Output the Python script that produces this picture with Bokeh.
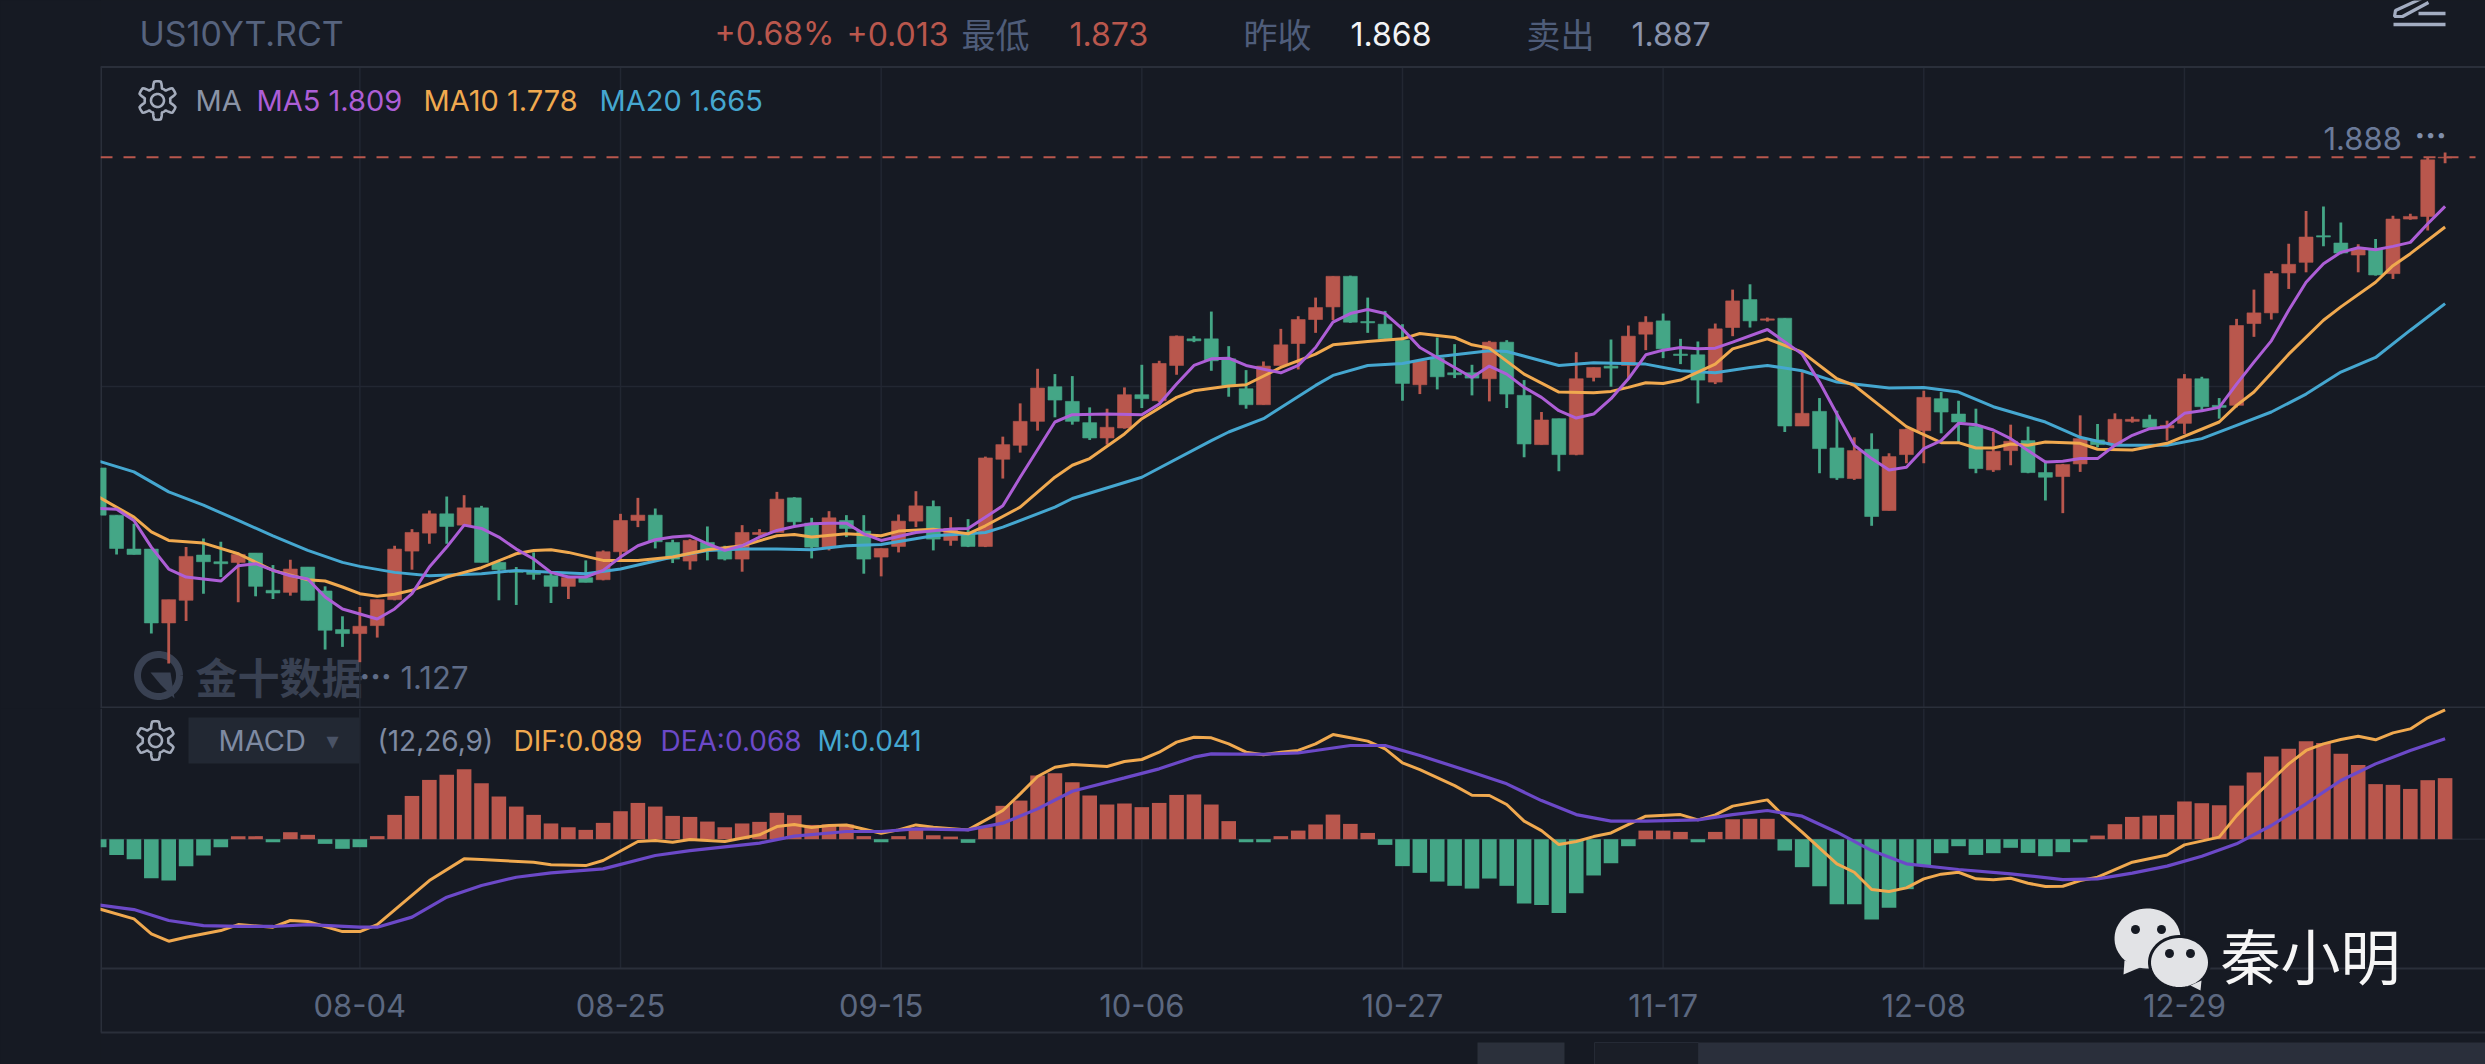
import numpy as np
from bokeh.plotting import figure
from bokeh.layouts import column
from bokeh.models import Range1d, Label, FixedTicker
from bokeh.embed import file_html
from bokeh.resources import INLINE

# ---------- candles (price) ----------
OPEN = [1.421,1.350,1.299,1.299,1.188,1.222,1.290,1.280,1.279,1.293,
        1.237,1.234,1.272,1.236,1.178,1.172,1.184,1.223,1.296,1.323,
        1.352,1.335,1.361,1.279,1.266,1.266,1.259,1.243,1.256,1.253,
        1.295,1.342,1.350,1.309,1.281,1.309,1.299,1.284,1.321,1.324,
        1.376,1.338,1.302,1.342,1.326,1.287,1.303,1.341,1.363,1.312,
        1.323,1.303,1.434,1.455,1.491,1.543,1.521,1.489,1.466,1.481,
        1.531,1.522,1.575,1.615,1.615,1.585,1.540,1.516,1.575,1.608,
        1.644,1.663,1.709,1.641,1.637,1.613,1.546,1.586,1.564,1.564,
        1.555,1.610,1.530,1.456,1.495,1.441,1.557,1.574,1.575,1.622,
        1.642,1.592,1.591,1.550,1.632,1.674,1.643,1.646,1.484,1.506,
        1.451,1.405,1.449,1.357,1.441,1.477,1.525,1.502,1.483,1.418,
        1.447,1.462,1.414,1.408,1.427,1.463,1.457,1.491,1.494,1.481,
        1.488,1.555,1.515,1.515,1.638,1.654,1.714,1.730,1.770,1.759,
        1.741,1.749,1.713,1.795,1.799,1.887]
HIGH = [1.421,1.350,1.337,1.299,1.223,1.302,1.315,1.310,1.294,1.293,
        1.275,1.283,1.272,1.243,1.198,1.212,1.223,1.304,1.329,1.357,
        1.378,1.380,1.364,1.282,1.272,1.294,1.263,1.259,1.282,1.297,
        1.352,1.376,1.360,1.313,1.314,1.333,1.304,1.335,1.329,1.385,
        1.377,1.346,1.356,1.350,1.350,1.300,1.351,1.386,1.372,1.347,
        1.344,1.438,1.468,1.518,1.570,1.562,1.559,1.512,1.510,1.542,
        1.576,1.582,1.620,1.619,1.656,1.604,1.568,1.581,1.630,1.649,
        1.677,1.709,1.710,1.677,1.657,1.637,1.583,1.617,1.607,1.576,
        1.612,1.613,1.553,1.505,1.495,1.595,1.572,1.614,1.635,1.649,
        1.653,1.615,1.611,1.638,1.689,1.697,1.647,1.646,1.565,1.526,
        1.507,1.467,1.473,1.443,1.480,1.537,1.535,1.522,1.510,1.475,
        1.486,1.483,1.432,1.427,1.500,1.487,1.503,1.498,1.501,1.492,
        1.562,1.558,1.526,1.645,1.689,1.717,1.758,1.807,1.814,1.790,
        1.757,1.765,1.800,1.803,1.888,1.895]
LOW = [1.350,1.291,1.291,1.172,1.127,1.191,1.232,1.257,1.219,1.228,
       1.224,1.229,1.222,1.148,1.152,1.129,1.166,1.222,1.268,1.307,
       1.307,1.333,1.279,1.222,1.215,1.253,1.218,1.224,1.249,1.252,
       1.284,1.332,1.300,1.278,1.268,1.282,1.282,1.265,1.319,1.324,
       1.332,1.285,1.297,1.317,1.262,1.258,1.294,1.332,1.297,1.304,
       1.302,1.302,1.405,1.444,1.477,1.497,1.486,1.463,1.456,1.480,
       1.511,1.520,1.561,1.610,1.567,1.528,1.510,1.516,1.575,1.569,
       1.624,1.643,1.639,1.624,1.615,1.522,1.532,1.539,1.556,1.530,
       1.521,1.511,1.437,1.456,1.416,1.440,1.551,1.543,1.555,1.598,
       1.586,1.577,1.518,1.547,1.619,1.632,1.641,1.475,1.484,1.413,
       1.403,1.403,1.334,1.357,1.428,1.428,1.473,1.460,1.413,1.415,
       1.425,1.413,1.372,1.353,1.415,1.452,1.455,1.489,1.480,1.462,
       1.472,1.507,1.495,1.512,1.618,1.644,1.690,1.715,1.754,1.742,
       1.715,1.710,1.705,1.794,1.778,1.879]
CLOSE = [1.350,1.300,1.291,1.188,1.223,1.288,1.280,1.277,1.291,1.243,
         1.233,1.269,1.222,1.177,1.172,1.183,1.223,1.299,1.324,1.352,
         1.333,1.361,1.279,1.268,1.264,1.261,1.243,1.256,1.249,1.295,
         1.342,1.350,1.310,1.284,1.312,1.297,1.284,1.324,1.324,1.374,
         1.340,1.302,1.346,1.330,1.284,1.300,1.341,1.364,1.314,1.330,
         1.303,1.436,1.456,1.491,1.541,1.523,1.491,1.466,1.482,1.531,
         1.525,1.578,1.619,1.612,1.582,1.545,1.516,1.574,1.606,1.644,
         1.662,1.709,1.640,1.639,1.615,1.548,1.582,1.558,1.561,1.556,
         1.610,1.532,1.457,1.493,1.441,1.555,1.572,1.571,1.619,1.640,
         1.600,1.590,1.553,1.630,1.672,1.642,1.645,1.484,1.503,1.450,
         1.406,1.447,1.348,1.438,1.479,1.527,1.505,1.490,1.420,1.446,
         1.461,1.414,1.407,1.426,1.465,1.456,1.494,1.494,1.482,1.485,
         1.555,1.513,1.512,1.635,1.654,1.713,1.727,1.768,1.768,1.744,
         1.750,1.711,1.795,1.799,1.884,1.888]

# ---------- moving averages, read at visible vertices ----------
MA5_I = [0,1,2,3,4,5,7,8,9,10,11,12,13,14,16,17,18,19,20,21,22,23,24,25,26,27,28,29,30,31,32,33,34,35,36,37,38,39,40,41,42,43,44,45,
         47,49,50,52,53,55,56,58,60,61,62,63,64,65,66,68,69,70,71,72,73,74,75,76,77,78,79,80,81,82,83,84,85,86,87,88,89,90,91,
         92,93,94,96,98,99,100,101,102,103,104,105,106,107,108,109,110,111,112,113,114,115,116,117,118,119,120,121,122,123,124,125,126,127,128,129,130,131,132,133,134,135]
MA5 = [1.360,1.359,1.342,1.302,1.269,1.257,1.251,1.274,1.277,1.267,1.259,1.254,1.227,1.209,1.194,1.209,1.232,1.272,1.302,1.335,1.330,1.317,1.299,1.284,1.264,1.257,1.257,1.267,1.287,1.304,1.313,1.317,1.319,1.307,1.297,1.304,1.317,1.327,1.333,1.337,1.338,1.338,1.322,1.312,
       1.324,1.329,1.330,1.364,1.407,1.490,1.501,1.502,1.501,1.517,1.547,1.575,1.585,1.586,1.575,1.564,1.575,1.602,1.640,1.653,1.659,1.653,1.630,1.602,1.587,1.572,1.557,1.574,1.562,1.542,1.527,1.507,1.496,1.502,1.525,1.555,1.591,1.598,1.602,
       1.600,1.601,1.610,1.629,1.592,1.550,1.502,1.455,1.435,1.418,1.422,1.450,1.462,1.488,1.486,1.478,1.465,1.447,1.430,1.431,1.435,1.435,1.455,1.470,1.480,1.483,1.503,1.507,1.512,1.547,1.580,1.612,1.658,1.700,1.728,1.745,1.752,1.749,1.754,1.760,1.788,1.814]
MA10_I = [0,2,3,4,6,8,10,12,13,14,15,16,17,18,20,21,22,24,25,26,27,29,31,33,35,37,39,40,41,43,45,46,
          48,50,51,53,55,56,57,59,60,62,63,65,66,68,70,71,73,75,76,78,79,80,82,84,86,87,88,89,90,91,
          92,93,94,96,98,100,101,104,106,107,108,109,110,111,112,114,115,117,119,122,123,124,126,128,129,131,132,133,135]
MA10 = [1.377,1.347,1.325,1.312,1.308,1.292,1.267,1.253,1.251,1.242,1.232,1.228,1.231,1.237,1.257,1.264,1.271,1.292,1.297,1.298,1.294,1.282,1.282,1.287,1.298,1.304,1.319,1.321,1.317,1.322,1.319,1.326,
        1.329,1.322,1.334,1.362,1.407,1.425,1.435,1.472,1.495,1.527,1.537,1.544,1.546,1.572,1.592,1.606,1.611,1.615,1.623,1.617,1.606,1.601,1.562,1.535,1.534,1.536,1.542,1.549,1.548,1.553,
        1.565,1.577,1.600,1.615,1.595,1.555,1.545,1.483,1.459,1.459,1.451,1.451,1.457,1.455,1.460,1.458,1.449,1.448,1.458,1.490,1.515,1.535,1.592,1.643,1.663,1.700,1.725,1.743,1.783]
MA20_I = [0,2,4,6,8,10,12,14,15,17,19,22,24,26,28,30,33,35,37,39,41,43,45,
          48,50,51,52,55,56,60,64,65,67,70,71,73,75,77,80,81,84,86,89,91,
          93,95,96,98,100,103,105,107,109,112,114,116,119,121,123,125,127,129,131,133,135]
MA20 = [1.431,1.415,1.385,1.365,1.342,1.319,1.297,1.279,1.273,1.264,1.259,1.262,1.267,1.264,1.262,1.269,1.287,1.297,1.299,1.299,1.298,1.304,1.306,
        1.319,1.322,1.324,1.332,1.362,1.375,1.407,1.462,1.475,1.495,1.545,1.560,1.575,1.578,1.588,1.597,1.596,1.575,1.579,1.577,1.567,
        1.564,1.572,1.575,1.567,1.550,1.541,1.542,1.535,1.513,1.490,1.467,1.455,1.455,1.465,1.485,1.505,1.532,1.565,1.587,1.628,1.668]

# ---------- MACD ----------
MACD_M = [-.0055,-.0108,-.0137,-.0268,-.0284,-.0185,-.0112,-.0055,.0021,.0021,
          -.0021,.0048,.0030,-.0032,-.0066,-.0055,.0021,.0167,.0297,.0407,
          .0442,.0480,.0384,.0293,.0224,.0167,.0108,.0082,.0064,.0112,
          .0192,.0249,.0224,.0160,.0153,.0121,.0082,.0108,.0119,.0181,
          .0165,.0098,.0101,.0101,.0021,-.0021,.0021,.0071,.0027,.0018,
          -.0025,.0082,.0229,.0265,.0437,.0453,.0391,.0300,.0238,.0245,
          .0220,.0249,.0304,.0307,.0238,.0124,-.0021,-.0021,.0021,.0059,
          .0101,.0169,.0105,.0043,-.0039,-.0185,-.0231,-.0291,-.0320,-.0339,
          -.0270,-.0320,-.0442,-.0451,-.0506,-.0371,-.0249,-.0165,-.0048,.0059,
          .0059,.0050,-.0021,.0050,.0137,.0140,.0140,-.0078,-.0192,-.0323,
          -.0446,-.0446,-.0551,-.0471,-.0343,-.0181,-.0096,-.0048,-.0108,-.0096,
          -.0059,-.0094,-.0117,-.0089,-.0021,.0025,.0103,.0153,.0162,.0167,
          .0259,.0247,.0233,.0368,.0458,.0567,.0620,.0673,.0661,.0586,
          .0510,.0378,.0373,.0345,.0405,.0419]
DIF_I = [0,2,3,4,5,7,8,10,11,12,14,15,16,19,21,22,25,26,28,29,31,32,33,34,36,38,39,40,41,42,43,45,46,47,48,50,52,53,54,55,56,58,59,60,61,62,63,64,65,66,67,68,
         69,70,71,72,73,74,75,76,78,79,80,81,82,83,84,85,86,87,89,91,92,93,94,96,97,98,100,101,102,103,104,105,106,107,108,109,110,111,112,113,114,115,117,119,120,122,123,124,125,126,127,128,129,130,131,132,133,134,135]
DIF = [-.0478,-.0547,-.0650,-.0700,-.0673,-.0627,-.0586,-.0604,-.0558,-.0565,-.0634,-.0634,-.0586,-.0284,-.0135,-.0140,-.0158,-.0176,-.0181,-.0146,-.0016,-.0009,-.0021,-.0002,-.0016,.0030,.0087,.0101,.0080,.0094,.0098,.0041,.0064,.0098,.0082,.0064,.0197,.0311,.0430,.0494,.0513,.0499,.0533,.0547,.0597,.0666,.0700,.0696,.0654,.0597,.0579,.0597,
       .0609,.0654,.0718,.0696,.0673,.0620,.0524,.0478,.0368,.0302,.0300,.0238,.0124,.0059,-.0037,-.0016,.0018,.0043,.0158,.0169,.0133,.0167,.0227,.0270,.0151,.0048,-.0169,-.0227,-.0345,-.0359,-.0334,-.0272,-.0240,-.0227,-.0272,-.0279,-.0268,-.0302,-.0325,-.0323,-.0284,-.0261,-.0158,-.0108,-.0039,.0014,.0162,.0288,.0403,.0517,.0609,.0654,.0684,.0707,.0682,.0730,.0757,.0833,.0888]
DEA_I = [0,2,4,6,8,10,12,15,16,18,20,22,24,26,29,32,34,38,40,43,45,47,50,52,54,56,59,61,63,64,67,
         69,70,72,74,76,79,81,83,85,87,89,92,94,96,98,100,102,104,107,110,113,115,117,119,121,123,125,127,129,131,133,135]
DEA = [-.0451,-.0483,-.0558,-.0593,-.0599,-.0599,-.0586,-.0604,-.0604,-.0535,-.0398,-.0318,-.0261,-.0231,-.0204,-.0112,-.0078,-.0027,.0021,.0053,.0053,.0071,.0064,.0110,.0208,.0329,.0421,.0483,.0563,.0586,.0583,
       .0593,.0609,.0643,.0643,.0574,.0460,.0380,.0265,.0169,.0124,.0124,.0133,.0169,.0197,.0158,.0048,-.0078,-.0169,-.0208,-.0238,-.0277,-.0272,-.0233,-.0185,-.0117,-.0032,.0094,.0243,.0403,.0517,.0609,.0689]

TICK_IDX = [15, 30, 45, 60, 75, 90, 105, 120]
TICK_LABELS = ["08-04", "08-25", "09-15", "10-06", "10-27", "11-17", "12-08", "12-29"]
LAST_PRICE = 1.888
MAX_LABEL = "1.888"
MIN_LABEL = "1.127"

BG = "#161a23"
RED = "#b9574d"
GREEN = "#44a686"
GRID = "#222732"
EDGE = "#2a2f3a"
C5 = "#ad5ed6"
C10 = "#f0a94f"
C20 = "#45a7d0"
CDEA = "#6c49c8"

# page pixel -> data coordinates, used only for icons, text and chrome
def X(px): return (px - 98.7) / 17.377
def Y(py): return 1.888 - (py - 156.7) * 0.001503
def M(py): return (838.7 - py) / 1457.0

FRAME_R = 2485
xr = (X(100), X(FRAME_R))

def base(height, yr, **kw):
    p = figure(width=2485, height=height, frame_width=2385, frame_height=height,
               x_range=Range1d(*xr), y_range=Range1d(*yr), output_backend="svg",
               toolbar_location=None, y_axis_location=None,
               background_fill_color=BG, border_fill_color=BG,
               min_border_left=100, min_border_right=0, min_border_top=0, min_border_bottom=0,
               outline_line_color=None, tools="", **kw)
    p.grid.visible = False
    return p

def label(p, fy, px, py, text, color, size, font="Inter", align="left", style="normal", level="annotation"):
    p.add_layout(Label(x=X(px), y=fy(py), text=text, text_color=color, text_font=font,
                       text_font_size=f"{size}px", text_align=align, text_baseline="middle",
                       text_font_style=style, level=level))

def gear(p, fy, cx, cy):
    a = np.linspace(0, 2*np.pi, 145)
    r = 16.0 + 3.2 * np.clip(2.0 * np.cos(6 * a), -1, 1)
    # rotate so that teeth point up and down
    p.line(X(cx + r*np.sin(a)), fy(cy + r*np.cos(a)), line_color="#a4acbc", line_width=2.6)
    a2 = np.linspace(0, 2*np.pi, 40)
    p.line(X(cx + 6.5*np.cos(a2)), fy(cy + 6.5*np.sin(a2)), line_color="#a4acbc", line_width=2.6)

def blob(cx, cy, rx, ry):
    a = np.linspace(0, 2*np.pi, 60)
    return cx + rx*np.cos(a), cy + ry*np.sin(a)

# ================= price panel =================
p = base(708, (Y(708), Y(0)), x_axis_location=None)
xs = list(range(len(OPEN)))

p.segment(TICK_IDX, [Y(708)]*8, TICK_IDX, [Y(66)]*8, line_color=GRID, line_width=1.5)
p.segment([X(100)], [Y(386)], [X(FRAME_R)], [Y(386)], line_color=GRID, line_width=1.5)
p.segment([X(100)], [Y(66.5)], [X(FRAME_R)], [Y(66.5)], line_color=EDGE, line_width=2)
p.segment([X(100)], [Y(707)], [X(FRAME_R)], [Y(707)], line_color=EDGE, line_width=2)
p.segment([X(100.5)], [Y(708)], [X(100.5)], [Y(66)], line_color=EDGE, line_width=2)

# watermark
wx, wy = blob(158, 675, 21, 21)
p.line(X(wx), Y(wy), line_color="#394152", line_width=7)
p.patch(X(np.array([150, 170, 174, 160])), Y(np.array([672, 672, 698, 684])), fill_color="#394152", line_color=None)
label(p, Y, 195, 675, "金十数据", "#394152", 42, "Noto Sans CJK SC", style="bold", level="underlay")

colors = [RED if c >= o else GREEN for o, c in zip(OPEN, CLOSE)]
p.segment(xs, LOW, xs, HIGH, line_color=colors, line_width=2.8)
top = [max(o, c) for o, c in zip(OPEN, CLOSE)]
bot = [min(o, c) for o, c in zip(OPEN, CLOSE)]
p.vbar(x=xs, top=top, bottom=bot, width=0.8, fill_color=colors, line_color=colors, line_width=0.6)

p.line(MA20_I, MA20, line_color=C20, line_width=3)
p.line(MA10_I, MA10, line_color=C10, line_width=3)
p.line(MA5_I, MA5, line_color=C5, line_width=3)

p.line([X(100), X(2475)], [LAST_PRICE, LAST_PRICE], line_color=RED, line_width=2, line_dash="12 11")

gear(p, Y, 157, 100)
label(p, Y, 139, 33, "US10YT.RCT", "#56637e", 34)
label(p, Y, 714, 33, "+0.68%", RED, 32)
label(p, Y, 846, 33, "+0.013", RED, 32)
label(p, Y, 961, 33, "最低", "#4f5d7a", 34, "Noto Sans CJK SC")
label(p, Y, 1069, 33, "1.873", RED, 32)
label(p, Y, 1243, 33, "昨收", "#4f5d7a", 34, "Noto Sans CJK SC")
label(p, Y, 1350, 33, "1.868", "#f2f3f5", 32)
label(p, Y, 1526, 33, "卖出", "#4f5d7a", 34, "Noto Sans CJK SC")
label(p, Y, 1631, 33, "1.887", "#8a94ad", 32)
label(p, Y, 195, 100, "MA", "#8a93a6", 29)
label(p, Y, 256, 100, "MA5 1.809", C5, 29)
label(p, Y, 423, 100, "MA10 1.778", C10, 29)
label(p, Y, 599, 100, "MA20 1.665", C20, 29)
label(p, Y, 2323, 138, MAX_LABEL, "#6b7a99", 31)
label(p, Y, 2414, 135, "···", "#7f8eab", 32, style="bold")
label(p, Y, 359, 676, "···", "#5f6c87", 32, style="bold")
label(p, Y, 400, 677, MIN_LABEL, "#5f6c87", 31)

# drawing-tool icon, top right
p.segment([X(2393), X(2418)], [Y(24), Y(13)], [X(2445), X(2445)], [Y(24), Y(13)], line_color="#a3adc2", line_width=3.6)
p.multi_line([[X(2421), X(2395), X(2394), X(2402), X(2428)]], [[Y(-2), Y(10), Y(16), Y(16), Y(2)]], line_color="#a3adc2", line_width=3.2)

# ================= MACD panel =================
q = base(356, (M(1064), M(708)), x_axis_location="below")
q.xaxis.ticker = FixedTicker(ticks=TICK_IDX)
q.xaxis.major_label_overrides = {i: s for i, s in zip(TICK_IDX, TICK_LABELS)}
q.xaxis.fixed_location = M(968)
q.xaxis.axis_line_color = None
q.xaxis.major_tick_line_color = None
q.xaxis.minor_tick_line_color = None
q.xaxis.major_label_standoff = 19
q.xaxis.major_label_text_font = "Inter"
q.xaxis.major_label_text_font_size = "31px"
q.xaxis.major_label_text_color = "#5c6880"

q.segment(TICK_IDX, [M(968)]*8, TICK_IDX, [M(708)]*8, line_color=GRID, line_width=1.5)
q.segment([X(100)], [M(838.7)], [X(FRAME_R)], [M(838.7)], line_color=GRID, line_width=1.5)
q.segment([X(100), X(100)], [M(968), M(1032)], [X(FRAME_R), X(FRAME_R)], [M(968), M(1032)], line_color=EDGE, line_width=2)
q.segment([X(100.5)], [M(1032)], [X(100.5)], [M(708)], line_color=EDGE, line_width=2)

# bottom strip
q.quad(left=[X(1477)], right=[X(1564)], top=[M(1042)], bottom=[M(1066)], fill_color="#2b303b", line_color=None)
q.quad(left=[X(1594)], right=[X(1698)], top=[M(1042)], bottom=[M(1066)], fill_color="#1a1e27", line_color="#252a35")
q.quad(left=[X(1698)], right=[X(FRAME_R)], top=[M(1042)], bottom=[M(1066)], fill_color="#2a2f3b", line_color=None)

# indicator selector
q.quad(left=[X(188)], right=[X(359)], top=[M(717)], bottom=[M(763)], fill_color="#222833", line_color=None)

mx = list(range(len(MACD_M)))
mcol = [RED if v >= 0 else GREEN for v in MACD_M]
q.vbar(x=mx, top=MACD_M, bottom=0, width=0.84, fill_color=mcol, line_color=None)
q.line(DIF_I, DIF, line_color=C10, line_width=3)
q.line(DEA_I, DEA, line_color=CDEA, line_width=3.2)

gear(q, M, 155, 740)
label(q, M, 218, 740, "MACD", "#7e8aa2", 29)
label(q, M, 326, 740, "▾", "#4a5366", 24, "DejaVu Sans")
label(q, M, 377, 740, "(12,26,9)", "#7e8aa2", 28)
label(q, M, 513, 740, "DIF:0.089", C10, 28)
label(q, M, 660, 740, "DEA:0.068", CDEA, 28)
label(q, M, 817, 740, "M:0.041", C20, 28)

# account mark
LOGO = "#e2e3e6"
bx, by = blob(2147, 938, 33, 30)
q.patch(X(bx), M(by), fill_color=LOGO, line_color=None)
q.patch(X(np.array([2124, 2123, 2142])), M(np.array([960, 974, 966])), fill_color=LOGO, line_color=None)
q.scatter(X(np.array([2135, 2161])), M(np.array([929, 929])), size=9, fill_color=BG, line_color=None)
sx, sy = blob(2179, 962, 30, 26)
q.patch(X(sx), M(sy), fill_color=LOGO, line_color=BG, line_width=3)
q.patch(X(np.array([2190, 2201, 2200])), M(np.array([985, 980, 990])), fill_color=LOGO, line_color=None)
q.scatter(X(np.array([2169, 2190])), M(np.array([953, 953])), size=9, fill_color=BG, line_color=None)
label(q, M, 2220, 953, "秦小明", "#f6f6f6", 60, "Noto Sans CJK SC")

root = column(p, q, spacing=0, styles={"background": BG})
open("out.html", "w").write(file_html(root, INLINE))
